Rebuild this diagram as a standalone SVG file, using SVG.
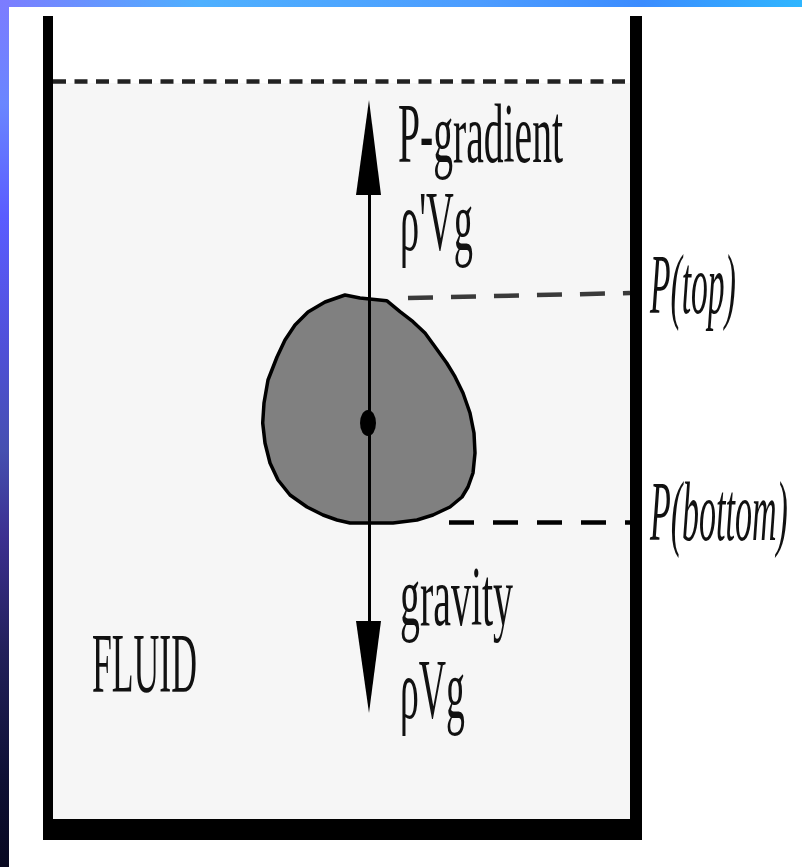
<svg xmlns="http://www.w3.org/2000/svg" width="802" height="867" viewBox="0 0 802 867">
<defs>
<linearGradient id="topBar" x1="0" y1="0" x2="1" y2="0">
<stop offset="0" stop-color="#7c7cff"/>
<stop offset="0.25" stop-color="#4eb0ff"/>
<stop offset="0.6" stop-color="#4c9cff"/>
<stop offset="0.8" stop-color="#3b8cff"/>
<stop offset="1" stop-color="#2fb6ff"/>
</linearGradient>
<linearGradient id="leftBar" x1="0" y1="0" x2="0" y2="1">
<stop offset="0" stop-color="#7c7cff"/>
<stop offset="0.12" stop-color="#6a86ff"/>
<stop offset="0.25" stop-color="#5a5cff"/>
<stop offset="0.4" stop-color="#5050d8"/>
<stop offset="0.52" stop-color="#4550b0"/>
<stop offset="0.62" stop-color="#3c2f90"/>
<stop offset="0.75" stop-color="#22205a"/>
<stop offset="0.9" stop-color="#0e1034"/>
<stop offset="1" stop-color="#080820"/>
</linearGradient>
</defs>
<style>
.wall{fill:#000}
.lbl{font-family:"Liberation Serif","Times New Roman",serif;font-size:84px;fill:#111}
.it{font-style:italic}
.dash{fill:none;stroke:#000;stroke-width:4.5}
.shaft{stroke:#000;stroke-width:3;fill:none}
.head{fill:#000}
</style>
<rect x="0" y="0" width="802" height="867" fill="#fff"/>
<rect x="0" y="0" width="802" height="7" fill="url(#topBar)"/>
<rect x="0" y="0" width="9" height="867" fill="url(#leftBar)"/>

<g id="container">
<rect x="53" y="16" width="577" height="67" fill="#fff"/>
<rect id="fluid" x="53" y="83" width="577" height="737" fill="#f6f6f6"/>
<rect class="wall" x="43" y="16" width="10" height="824"/>
<rect class="wall" x="630" y="16" width="12" height="824"/>
<rect class="wall" x="43" y="819" width="599" height="21"/>
</g>

<g id="surface">
<line x1="53" y1="81.5" x2="630" y2="81.5" stroke="#222" stroke-width="4.5" stroke-dasharray="13 8.5"/>
</g>

<g id="body">
<polygon points="345,295 360,298 386.7,300.7 400,311.7 413,321.7 425,333 435,346.7 446.7,363 455,376.7 463,393 470,413 474,433 475,453 473,473 468,487 462,497 450,507 433,515 417,520 393,523 350,523 337,520 323,515 307,507 290,495 278,480 270,463 265,443 262.7,423 264,403 268,380 277,357 285,340 295,325 308,312 325,302" fill="#808080" stroke="#000" stroke-width="3.5" stroke-linejoin="round"/>
<ellipse cx="368" cy="423" rx="8" ry="13" fill="#000"/>
</g>

<g id="connectors">
<line class="shaft" x1="369.5" y1="190" x2="369.5" y2="625"/>
<polygon class="head" points="369,100 356,195 381,195"/>
<polygon class="head" points="356,621 381,621 369,713"/>
<line x1="408" y1="298" x2="630" y2="293" stroke="#3a3a3a" stroke-width="4.5" stroke-dasharray="25 18"/>
<line class="dash" x1="449" y1="522.5" x2="630" y2="522.5" stroke-dasharray="25 19"/>
</g>

<g id="label-pgradient"><text class="lbl" x="398" y="162" textLength="165" lengthAdjust="spacingAndGlyphs">P-gradient</text></g>
<g id="label-buoyancy"><text class="lbl" x="400" y="250" textLength="73" lengthAdjust="spacingAndGlyphs">ρ'Vg</text></g>
<g id="label-ptop"><text class="lbl it" transform="translate(650,313) scale(0.40,1)">P(top)</text></g>
<g id="label-pbottom"><text class="lbl it" transform="translate(650,540) scale(0.405,1)">P(bottom)</text></g>
<g id="label-gravity"><text class="lbl" x="400" y="625" textLength="113" lengthAdjust="spacingAndGlyphs">gravity</text></g>
<g id="label-weight"><text class="lbl" x="400" y="718" textLength="65" lengthAdjust="spacingAndGlyphs">ρVg</text></g>
<g id="label-fluid"><text class="lbl" x="92" y="692" textLength="105" lengthAdjust="spacingAndGlyphs">FLUID</text></g>
</svg>
